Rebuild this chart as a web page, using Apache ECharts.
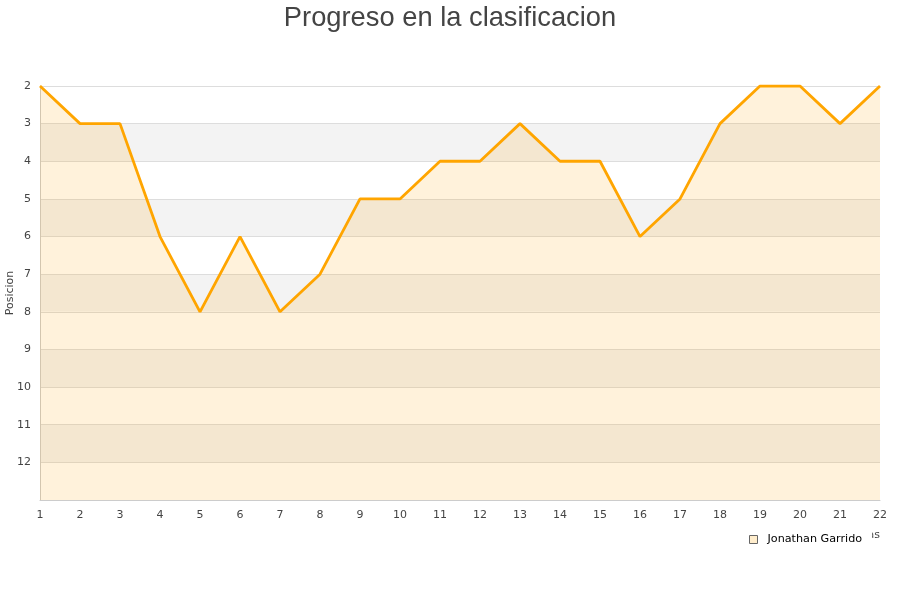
<!DOCTYPE html>
<html><head><meta charset="utf-8">
<script src="https://cdn.jsdelivr.net/npm/echarts@6/dist/echarts.min.js"></script>
<style>html,body{margin:0;padding:0;background:#fff}#c{width:900px;height:600px}</style>
</head><body><div id="c"></div>
<script>
const jornadas = ['1','2','3','4','5','6','7','8','9','10','11','12','13','14','15','16','17','18','19','20','21','22'];
const posiciones = [2,3,3,6,8,6,8,7,5,5,4,4,3,4,4,6,5,3,2,2,3,2];
const seriesName = 'Jonathan Garrido';
const titleText = 'Progreso en la clasificacion';

const chart = echarts.init(document.getElementById('c'));
chart.setOption({
  animation: false,
  backgroundColor: '#fff',
  title: {text: titleText, left: 'center', top: 0,
    textStyle: {fontFamily: 'Liberation Sans, Arial, sans-serif', fontSize: 27.3, fontWeight: 'normal', color: '#444'}},
  grid: {left: 40, right: 20, top: 86, bottom: 100, containLabel: false, outerBoundsMode: 'none'},
  legend: {data: [{name: seriesName, icon: 'rect'}], left: 744, top: 529, itemWidth: 8, itemHeight: 8,
    padding: [5, 10, 5, 5],
    backgroundColor: '#fff', z: 20, zlevel: 1,
    itemStyle: {color: 'rgba(255,165,0,0.2)', borderColor: '#666', borderWidth: 1},
    textStyle: {fontFamily: 'DejaVu Sans, sans-serif', fontSize: 11.2, color: '#000', padding: [0, 0, 0, 5]}},
  xAxis: {type: 'category', data: jornadas, boundaryGap: false,
    name: 'Jornadas', nameLocation: 'end', nameGap: 0, nameMoveOverlap: false,
    nameTextStyle: {fontFamily: 'DejaVu Sans, sans-serif', fontSize: 11, color: '#444', align: 'right', verticalAlign: 'top', padding: [30, 0, 0, 0]},
    axisLine: {lineStyle: {color: '#ccc'}}, axisTick: {show: false},
    axisLabel: {fontFamily: 'DejaVu Sans, sans-serif', fontSize: 11, color: '#444', margin: 10},
    splitLine: {show: false}},
  yAxis: {type: 'value', inverse: true, min: 2, max: 13, interval: 1,
    name: 'Posicion', nameLocation: 'middle', nameGap: 24, nameMoveOverlap: false,
    nameTextStyle: {fontFamily: 'DejaVu Sans, sans-serif', fontSize: 11, color: '#444'},
    axisLine: {show: true, lineStyle: {color: '#ccc'}}, axisTick: {show: false},
    axisLabel: {fontFamily: 'DejaVu Sans, sans-serif', fontSize: 11, color: '#444', margin: 9,
      formatter: v => v === 13 ? '' : String(v)},
    splitLine: {lineStyle: {color: '#ddd'}},
    splitArea: {show: true, areaStyle: {color: ['#ffffff', '#f3f3f3']}}},
  series: [{name: seriesName, type: 'line', data: posiciones, showSymbol: false, symbol: 'none',
    lineStyle: {color: '#FFA500', width: 2.8},
    itemStyle: {color: 'rgba(255,165,0,0.2)', borderColor: '#FFA500'},
    areaStyle: {color: 'rgba(255,165,0,0.2)', origin: 'end'}}]
});
</script></body></html>
